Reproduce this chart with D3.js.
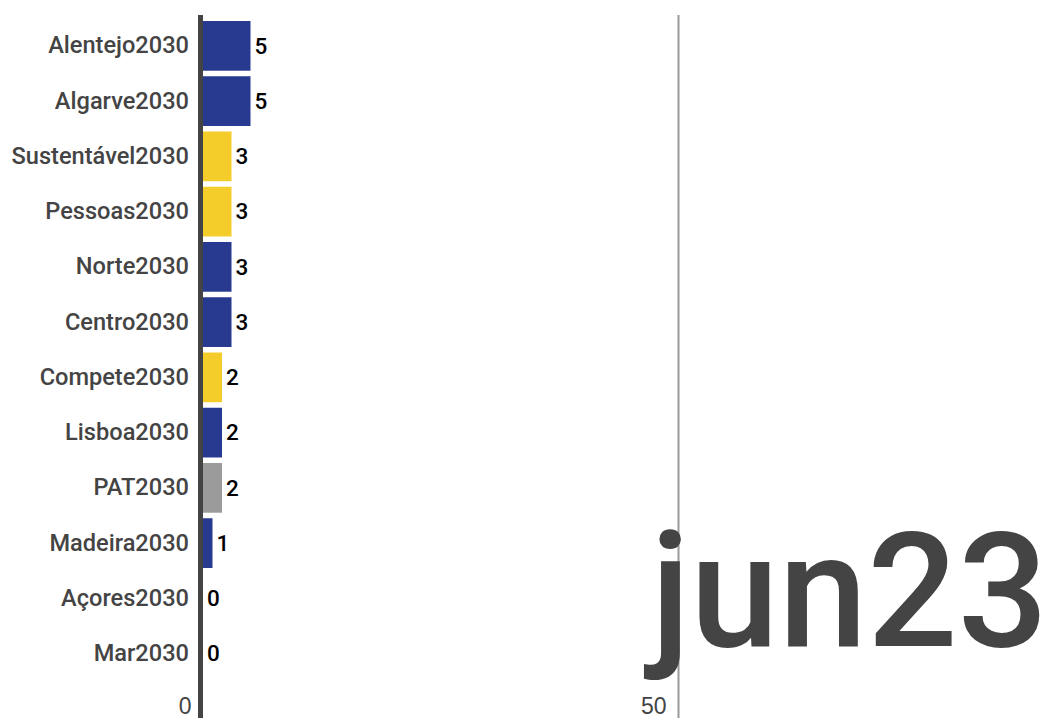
<!DOCTYPE html>
<html>
<head>
<meta charset="utf-8">
<script src="https://cdn.jsdelivr.net/npm/d3@7"></script>
<style>
  html, body { margin: 0; padding: 0; background: #fff; }
  svg { display: block; font-family: Roboto, sans-serif; font-weight: 500; }
</style>
</head>
<body>
<svg width="1057" height="718"></svg>
<script>
// data (jun23 snapshot)
const programas = ["Alentejo2030", "Algarve2030", "Sustentável2030", "Pessoas2030", "Norte2030", "Centro2030",
                   "Compete2030", "Lisboa2030", "PAT2030", "Madeira2030", "Açores2030", "Mar2030"];
const valores = [5, 5, 3, 3, 3, 3, 2, 2, 2, 1, 0, 0];
const tipos = ["regional", "regional", "tematico", "tematico", "regional", "regional",
               "tematico", "regional", "assistencia", "regional", "regional", "regional"];
const xTicks = [0, 50];
const periodo = "jun23";

const cores = { regional: "#283a8f", tematico: "#f5cd2a", assistencia: "#9b9b9b" };

const data = programas.map((p, i) => ({ name: p, value: valores[i], tipo: tipos[i] }));

const svg = d3.select("svg");
const width = +svg.attr("width");
const height = +svg.attr("height");

// scales
const x = d3.scaleLinear().domain([0, 50]).range([203, 678]);
const y = d3.scaleBand()
    .domain(programas)
    .range([21, 21 + 55.25 * 11.9])
    .paddingInner(0.1)
    .paddingOuter(0);

// grid / ticks at the bottom
const xAxis = d3.axisBottom(x)
    .tickValues(xTicks)
    .tickSize(-(height - 15))
    .tickSizeOuter(0)
    .tickFormat(d3.format("d"));
const gx = svg.append("g")
    .attr("transform", `translate(0, ${height})`)
    .call(xAxis);
gx.select(".domain").remove();
gx.selectAll(".tick line")
    .attr("stroke", d => d === 0 ? "none" : "#999")
    .attr("stroke-width", 2);
gx.selectAll(".tick text")
    .attr("fill", "#444")
    .attr("font-size", 23)
    .attr("font-weight", 500)
    .attr("text-anchor", "end")
    .attr("x", -12)
    .attr("y", -4)
    .attr("dy", 0);

// bars
svg.append("g").selectAll("rect")
    .data(data)
    .join("rect")
    .attr("x", x(0))
    .attr("y", d => y(d.name))
    .attr("width", d => x(d.value) - x(0))
    .attr("height", y.bandwidth())
    .attr("fill", d => cores[d.tipo]);

// value labels
svg.append("g").selectAll("text")
    .data(data)
    .join("text")
    .attr("x", d => x(d.value) + 4)
    .attr("y", d => y(d.name) + y.bandwidth() / 2)
    .attr("dy", "0.35em")
    .attr("font-size", 22.5)
    .attr("fill", "#000")
    .text(d => d.value);

// category labels
const yAxis = d3.axisLeft(y).tickSize(0).tickPadding(0);
const gy = svg.append("g")
    .attr("transform", "translate(189, 0)")
    .call(yAxis);
gy.select(".domain").remove();
gy.selectAll(".tick text")
    .attr("fill", "#444")
    .attr("font-size", 23.6)
    .attr("font-weight", 500)
    .attr("font-family", "Roboto, sans-serif");

// zero line
svg.append("line")
    .attr("x1", x(0) - 2.5).attr("x2", x(0) - 2.5)
    .attr("y1", 15).attr("y2", height)
    .attr("stroke", "#444")
    .attr("stroke-width", 5);

// period label
svg.append("text")
    .attr("x", 1048)
    .attr("y", 646)
    .attr("text-anchor", "end")
    .attr("font-size", 159)
    .attr("fill", "#444")
    .text(periodo);
</script>
</body>
</html>
